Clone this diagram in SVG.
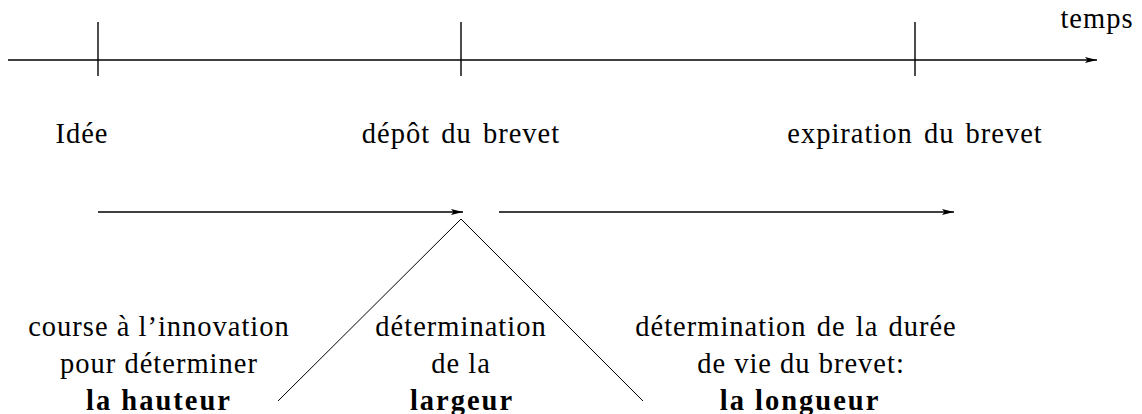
<svg xmlns="http://www.w3.org/2000/svg" width="1142" height="414" viewBox="0 0 1142 414">
<style>
.b{font-weight:bold;letter-spacing:2px}
.ln{stroke:#000;stroke-width:1.4;fill:none}
.thin{stroke:#000;stroke-width:1;fill:none}
</style>
<defs>
<marker id="ah" viewBox="0 0 12 6" refX="12" refY="3" markerWidth="12" markerHeight="6" markerUnits="userSpaceOnUse" orient="auto">
<path d="M0,0 L12,3 L0,6 L2.5,3 Z" fill="#000"/>
</marker>
</defs>
<g id="connectors">
<line class="ln" x1="8" y1="60" x2="1097" y2="60" marker-end="url(#ah)"/>
<line class="ln" x1="98" y1="212" x2="463" y2="212" marker-end="url(#ah)"/>
<line class="ln" x1="499" y1="212" x2="954" y2="212" marker-end="url(#ah)"/>
<line class="thin" x1="461" y1="219" x2="278" y2="401"/>
<line class="thin" x1="461" y1="219" x2="643" y2="401"/>
</g>
<g font-family="Liberation Serif, serif" font-size="28.5" text-anchor="middle" fill="#000" letter-spacing="1">
<g id="temps"><text x="1097" y="28">temps</text></g>
<g id="idee"><line class="ln" x1="98" y1="22" x2="98" y2="76"/><text x="82" y="143">Idée</text></g>
<g id="depot"><line class="ln" x1="461" y1="22" x2="461" y2="76"/><text x="461" y="143" word-spacing="3">dépôt du brevet</text></g>
<g id="expiration"><line class="ln" x1="915" y1="22" x2="915" y2="76"/><text x="915" y="143" word-spacing="3">expiration du brevet</text></g>
<g id="hauteur">
<text x="159" y="336">course à l’innovation</text>
<text x="159" y="373">pour déterminer</text>
<text class="b" x="159" y="410">la hauteur</text>
</g>
<g id="largeur">
<text x="461" y="336">détermination</text>
<text x="461" y="373">de la</text>
<text class="b" x="462" y="410">largeur</text>
</g>
<g id="longueur">
<text x="796" y="336" word-spacing="2">détermination de la durée</text>
<text x="801" y="373">de vie du brevet:</text>
<text class="b" x="800" y="410">la longueur</text>
</g>
</g>
</svg>
